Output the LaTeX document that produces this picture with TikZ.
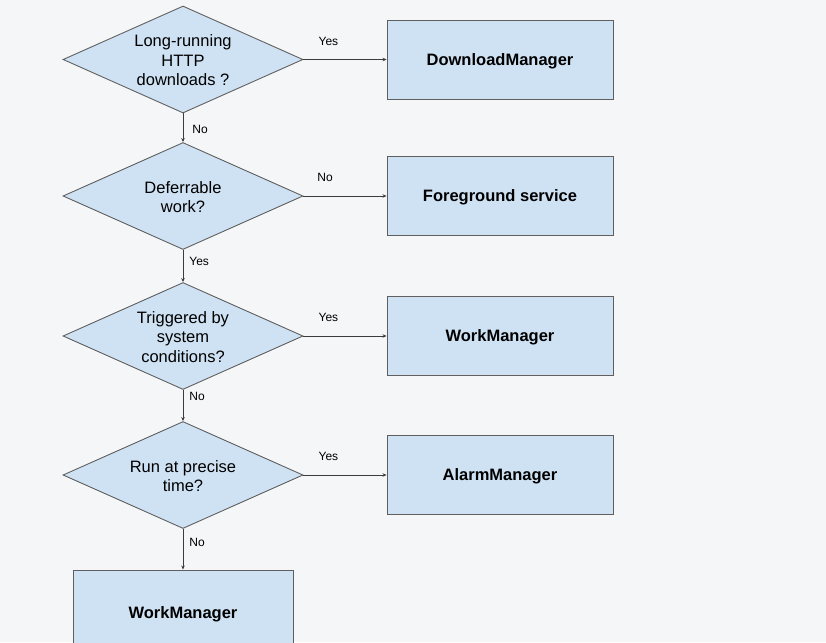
\documentclass[tikz,border=0pt]{standalone}
\usepackage{fontspec}
\setmainfont{Liberation Sans}
\usetikzlibrary{shapes.geometric,arrows.meta}
\definecolor{bg}{HTML}{F5F6F8}
\definecolor{boxfill}{HTML}{CFE2F3}
\definecolor{boxline}{HTML}{5F5F5F}
\definecolor{lineclr}{HTML}{3C3C3C}
\tikzset{
  dia/.style={shape=diamond, draw=boxline, fill=boxfill, line width=0.9pt, inner sep=0pt, minimum width=240pt, minimum height=107pt},
  diatext/.style={align=center, font=\fontsize{16.5}{19.5}\selectfont, inner sep=0pt, yshift=-1pt},
  outbox/.style={draw=boxline, fill=boxfill, line width=0.9pt, minimum width=226pt, minimum height=79pt, text height=11.9pt, text depth=0pt, font=\fontsize{16.5}{19.5}\selectfont\bfseries},
  conn/.style={draw=lineclr, line width=0.8pt, -{Stealth[length=4pt,width=3.5pt]}},
  lbl/.style={font=\fontsize{12}{14}\selectfont, inner sep=0pt},
}
\begin{document}
\begin{tikzpicture}[x=1pt,y=-1pt]
\fill[bg] (0,0) rectangle (826,642);
\clip (0,0) rectangle (826,642);
\useasboundingbox (0,0) rectangle (826,642);

\node[dia] (d1) at (183,59.5) {};
\node[diatext] (d1t) at (d1) {Long-running\\HTTP\\downloads ?};
\node[dia] (d2) at (183,196) {};
\node[diatext] (d2t) at (d2) {Deferrable\\work?};
\node[dia] (d3) at (183,336) {};
\node[diatext] (d3t) at (d3) {Triggered by\\system\\conditions?};
\node[dia] (d4) at (183,475) {};
\node[diatext] (d4t) at (d4) {Run at precise\\time?};

\node[outbox] (b1) at (500,59.5) {DownloadManager};
\node[outbox] (b2) at (500,196) {Foreground service};
\node[outbox] (b3) at (500,336) {WorkManager};
\node[outbox] (b4) at (500,475) {AlarmManager};
\node[outbox, minimum width=220pt, minimum height=86pt] (b5) at (183,613) {WorkManager};

\draw[conn] (d1.east) -- node[lbl, pos=0.3, yshift=18.5pt] (l1) {Yes} (b1.west);
\draw[conn] (d2.east) -- node[lbl, pos=0.26, yshift=19pt] (l2) {No} (b2.west);
\draw[conn] (d3.east) -- node[lbl, pos=0.3, yshift=19pt] (l3) {Yes} (b3.west);
\draw[conn] (d4.east) -- node[lbl, pos=0.3, yshift=19pt] (l4) {Yes} (b4.west);

\draw[conn] (d1.south) -- node[lbl, pos=0.57, anchor=west, xshift=9pt] (l5) {No} (d2.north);
\draw[conn] (d2.south) -- node[lbl, pos=0.35, anchor=west, xshift=6pt] (l6) {Yes} (d3.north);
\draw[conn] (d3.south) -- node[lbl, pos=0.22, anchor=west, xshift=6pt] (l7) {No} (d4.north);
\draw[conn] (d4.south) -- node[lbl, pos=0.33, anchor=west, xshift=6pt] (l8) {No} (b5.north);
\end{tikzpicture}
\end{document}
